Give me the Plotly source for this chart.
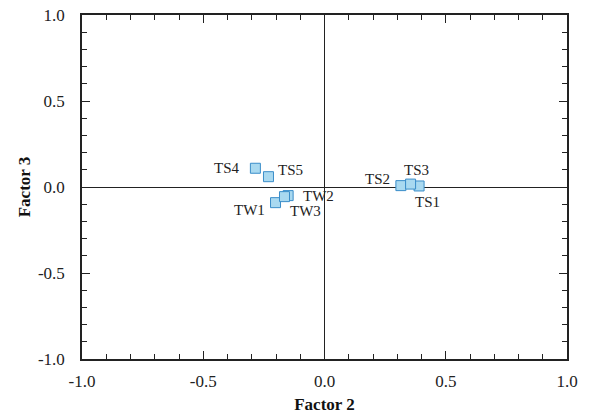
import plotly.graph_objects as go

labels = ["TS1", "TS2", "TS3", "TS4", "TS5", "TW1", "TW2", "TW3"]
factor2 = [0.39, 0.315, 0.355, -0.285, -0.231, -0.202, -0.150, -0.165]
factor3 = [0.006, 0.008, 0.017, 0.109, 0.06, -0.091, -0.050, -0.056]

# label placement (style only): anchor, pixel offsets from marker
label_anchor = ["left", "right", "center", "right", "left", "right", "left", "left"]
label_dx = [-6, -9, 6, -13, 8, -9, 13, 4]
label_dy = [-16, 7, 14, 0, 7, -7, 0, -14]

tick_vals = [-1.0, -0.5, 0.0, 0.5, 1.0]
tick_text = ["-1.0", "-0.5", "0.0", "0.5", "1.0"]

fig = go.Figure()
fig.add_trace(go.Scatter(
    x=factor2, y=factor3, mode="markers",
    marker=dict(symbol="square", size=10, color="#a9d9f0",
                line=dict(color="#3a8dc9", width=1)),
    cliponaxis=False, showlegend=False, hoverinfo="skip",
))

for lab, xv, yv, anc, dx, dy in zip(labels, factor2, factor3, label_anchor, label_dx, label_dy):
    fig.add_annotation(x=xv, y=yv, text=lab, showarrow=False,
                       xanchor=anc, yanchor="middle", xshift=dx, yshift=dy,
                       font=dict(family="Liberation Serif", size=15, color="#222"))

axis_common = dict(
    range=[-1, 1], tickvals=tick_vals, ticktext=tick_text,
    ticks="inside", ticklen=8, tickwidth=1.2, tickcolor="#222",
    minor=dict(dtick=0.1, tick0=0, ticks="inside", ticklen=5, tickwidth=1.2, tickcolor="#222"),
    showline=True, linecolor="#222", linewidth=1.5, mirror="ticks",
    showgrid=False, zeroline=True, zerolinecolor="#222", zerolinewidth=1.2,
    tickfont=dict(family="Liberation Serif", size=17, color="#222"),
    automargin=False,
)

fig.update_layout(
    width=589, height=417,
    margin=dict(l=82, r=22, t=15, b=58),
    plot_bgcolor="white", paper_bgcolor="white",
    xaxis=dict(**axis_common, ticklabelstandoff=6,
               title=dict(text="<b>Factor 2</b>", standoff=8,
               font=dict(family="Liberation Serif", size=17, color="#111"))),
    yaxis=dict(**axis_common, ticklabelstandoff=12,
               title=dict(text="<b>Factor 3</b>", standoff=3,
               font=dict(family="Liberation Serif", size=17, color="#111"))),
)

fig.write_html("out.html", config={"displayModeBar": False},
               post_script="document.body.style.margin='0';")
